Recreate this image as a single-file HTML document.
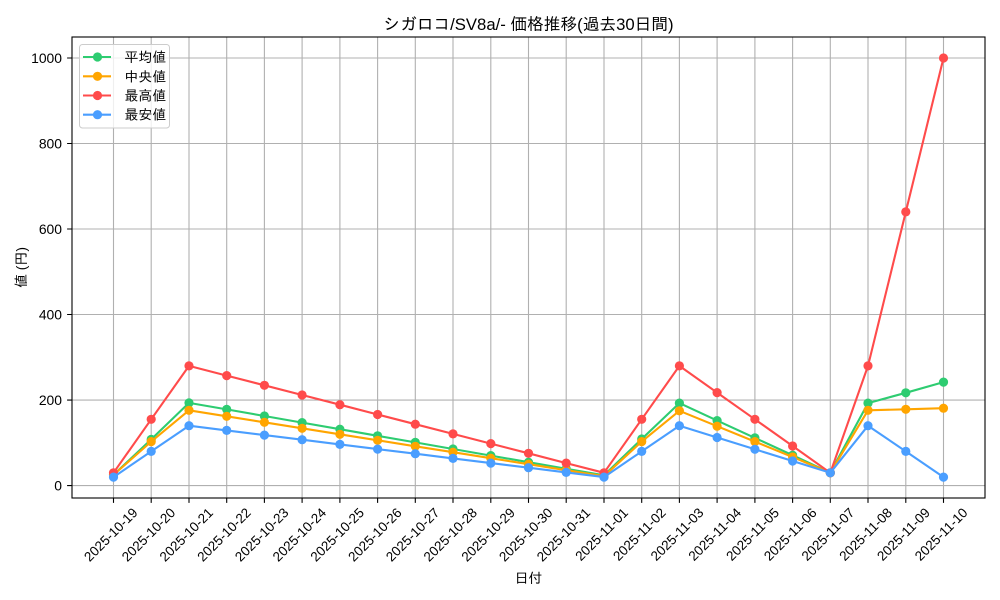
<!DOCTYPE html>
<html>
<head>
<meta charset="utf-8">
<style>
html,body{margin:0;padding:0;background:#fff;}
svg{display:block;}
text{font-family:"Liberation Sans","IPAGothic",sans-serif;fill:#000;}
</style>
</head>
<body>
<svg width="1000" height="600" viewBox="0 0 1000 600" xmlns="http://www.w3.org/2000/svg">
<defs>
<marker id="mg" markerUnits="userSpaceOnUse" markerWidth="10" markerHeight="10" refX="5" refY="5" overflow="visible"><circle cx="5" cy="5" r="4.6" fill="#2ecc71"/></marker>
<marker id="mo" markerUnits="userSpaceOnUse" markerWidth="10" markerHeight="10" refX="5" refY="5" overflow="visible"><circle cx="5" cy="5" r="4.6" fill="#ffa500"/></marker>
<marker id="mr" markerUnits="userSpaceOnUse" markerWidth="10" markerHeight="10" refX="5" refY="5" overflow="visible"><circle cx="5" cy="5" r="4.6" fill="#ff4b4b"/></marker>
<marker id="mb" markerUnits="userSpaceOnUse" markerWidth="10" markerHeight="10" refX="5" refY="5" overflow="visible"><circle cx="5" cy="5" r="4.6" fill="#4a9eff"/></marker>
</defs>
<rect width="1000" height="600" fill="#fff"/>

<!-- grid -->
<g stroke="#b0b0b0" stroke-width="1.1" fill="none">
<path d="M113.5 37V498M151.2 37V498M189 37V498M226.7 37V498M264.4 37V498M302.1 37V498M339.9 37V498M377.6 37V498M415.3 37V498M453 37V498M490.8 37V498M528.5 37V498M566.2 37V498M604 37V498M641.7 37V498M679.4 37V498M717.1 37V498M754.9 37V498M792.6 37V498M830.3 37V498M868 37V498M905.8 37V498M943.5 37V498"/>
<path d="M72 485.6H985M72 400.1H985M72 314.5H985M72 229H985M72 143.5H985M72 58H985"/>
</g>

<!-- series -->
<g fill="none" stroke-width="2.1" stroke-linejoin="round">
<polyline stroke="#2ecc71" marker-start="url(#mg)" marker-mid="url(#mg)" marker-end="url(#mg)" points="113.5,474.9 151.2,439.4 189.0,402.9 226.7,409.4 264.4,416.0 302.1,422.6 339.9,429.2 377.6,435.8 415.3,442.4 453.0,449.0 490.8,455.6 528.5,462.2 566.2,468.8 604.0,475.3 641.7,439.0 679.4,403.1 717.1,420.6 754.9,437.9 792.6,455.2 830.3,472.8 868.0,403.1 905.8,392.8 943.5,382.1"/>
<polyline stroke="#ffa500" marker-start="url(#mo)" marker-mid="url(#mo)" marker-end="url(#mo)" points="113.5,474.9 151.2,441.6 189.0,410.3 226.7,416.3 264.4,422.3 302.1,428.3 339.9,434.3 377.6,440.3 415.3,446.3 453.0,452.2 490.8,458.2 528.5,464.2 566.2,470.2 604.0,476.2 641.7,441.6 679.4,410.8 717.1,426.2 754.9,441.6 792.6,457.0 830.3,472.8 868.0,410.3 905.8,409.3 943.5,408.2"/>
<polyline stroke="#ff4b4b" marker-start="url(#mr)" marker-mid="url(#mr)" marker-end="url(#mr)" points="113.5,472.8 151.2,419.3 189.0,365.9 226.7,375.6 264.4,385.3 302.1,395.0 339.9,404.7 377.6,414.5 415.3,424.2 453.0,433.9 490.8,443.6 528.5,453.3 566.2,463.1 604.0,472.8 641.7,419.3 679.4,365.9 717.1,392.6 754.9,419.3 792.6,446.0 830.3,472.8 868.0,365.9 905.8,211.9 943.5,58.0"/>
<polyline stroke="#4a9eff" marker-start="url(#mb)" marker-mid="url(#mb)" marker-end="url(#mb)" points="113.5,477.1 151.2,451.4 189.0,425.7 226.7,430.4 264.4,435.1 302.1,439.7 339.9,444.4 377.6,449.1 415.3,453.7 453.0,458.4 490.8,463.1 528.5,467.7 566.2,472.4 604.0,477.1 641.7,451.4 679.4,425.7 717.1,437.5 754.9,449.3 792.6,461.0 830.3,472.8 868.0,425.7 905.8,451.4 943.5,477.1"/>
</g>

<!-- spines -->
<rect x="72" y="37" width="913" height="461" fill="none" stroke="#000" stroke-width="1.1"/>

<!-- ticks -->
<g stroke="#000" stroke-width="1.1">
<path d="M113.5 498v4.9M151.2 498v4.9M189 498v4.9M226.7 498v4.9M264.4 498v4.9M302.1 498v4.9M339.9 498v4.9M377.6 498v4.9M415.3 498v4.9M453 498v4.9M490.8 498v4.9M528.5 498v4.9M566.2 498v4.9M604 498v4.9M641.7 498v4.9M679.4 498v4.9M717.1 498v4.9M754.9 498v4.9M792.6 498v4.9M830.3 498v4.9M868 498v4.9M905.8 498v4.9M943.5 498v4.9"/>
<path d="M72 485.6h-4.9M72 400.1h-4.9M72 314.5h-4.9M72 229h-4.9M72 143.5h-4.9M72 58h-4.9"/>
</g>

<!-- y tick labels -->
<g font-size="13.9" text-anchor="end">
<text x="62" y="490.5">0</text>
<text x="62" y="405">200</text>
<text x="62" y="319.4">400</text>
<text x="62" y="233.9">600</text>
<text x="62" y="148.4">800</text>
<text x="62" y="62.9">1000</text>
</g>

<!-- x tick labels -->
<g font-size="13.5" text-anchor="end">
<text x="138.5" y="513.5" transform="rotate(-45 138.5 513.5)">2025-10-19</text>
<text x="176.2" y="513.5" transform="rotate(-45 176.2 513.5)">2025-10-20</text>
<text x="214" y="513.5" transform="rotate(-45 214 513.5)">2025-10-21</text>
<text x="251.7" y="513.5" transform="rotate(-45 251.7 513.5)">2025-10-22</text>
<text x="289.4" y="513.5" transform="rotate(-45 289.4 513.5)">2025-10-23</text>
<text x="327.1" y="513.5" transform="rotate(-45 327.1 513.5)">2025-10-24</text>
<text x="364.9" y="513.5" transform="rotate(-45 364.9 513.5)">2025-10-25</text>
<text x="402.6" y="513.5" transform="rotate(-45 402.6 513.5)">2025-10-26</text>
<text x="440.3" y="513.5" transform="rotate(-45 440.3 513.5)">2025-10-27</text>
<text x="478" y="513.5" transform="rotate(-45 478 513.5)">2025-10-28</text>
<text x="515.8" y="513.5" transform="rotate(-45 515.8 513.5)">2025-10-29</text>
<text x="553.5" y="513.5" transform="rotate(-45 553.5 513.5)">2025-10-30</text>
<text x="591.2" y="513.5" transform="rotate(-45 591.2 513.5)">2025-10-31</text>
<text x="629" y="513.5" transform="rotate(-45 629 513.5)">2025-11-01</text>
<text x="666.7" y="513.5" transform="rotate(-45 666.7 513.5)">2025-11-02</text>
<text x="704.4" y="513.5" transform="rotate(-45 704.4 513.5)">2025-11-03</text>
<text x="742.1" y="513.5" transform="rotate(-45 742.1 513.5)">2025-11-04</text>
<text x="779.9" y="513.5" transform="rotate(-45 779.9 513.5)">2025-11-05</text>
<text x="817.6" y="513.5" transform="rotate(-45 817.6 513.5)">2025-11-06</text>
<text x="855.3" y="513.5" transform="rotate(-45 855.3 513.5)">2025-11-07</text>
<text x="893" y="513.5" transform="rotate(-45 893 513.5)">2025-11-08</text>
<text x="930.8" y="513.5" transform="rotate(-45 930.8 513.5)">2025-11-09</text>
<text x="968.5" y="513.5" transform="rotate(-45 968.5 513.5)">2025-11-10</text>
</g>

<!-- axis labels & title -->
<text x="528.5" y="583" font-size="13.9" text-anchor="middle">日付</text>
<text x="26" y="267.5" font-size="13.9" text-anchor="middle" transform="rotate(-90 26 267.5)">値 (円)</text>
<text x="528.5" y="30" font-size="16.7" text-anchor="middle">シガロコ/SV8a/- 価格推移(過去30日間)</text>

<!-- legend -->
<rect x="79.5" y="44.5" width="90" height="83.5" rx="3" ry="3" fill="#fff" fill-opacity="0.8" stroke="#cccccc" stroke-width="1"/>
<g stroke-width="2.1">
<line x1="83" y1="57" x2="111" y2="57" stroke="#2ecc71"/>
<line x1="83" y1="76.3" x2="111" y2="76.3" stroke="#ffa500"/>
<line x1="83" y1="95.5" x2="111" y2="95.5" stroke="#ff4b4b"/>
<line x1="83" y1="114.7" x2="111" y2="114.7" stroke="#4a9eff"/>
</g>
<circle cx="97.5" cy="57" r="4.6" fill="#2ecc71"/>
<circle cx="97.5" cy="76.3" r="4.6" fill="#ffa500"/>
<circle cx="97.5" cy="95.5" r="4.6" fill="#ff4b4b"/>
<circle cx="97.5" cy="114.7" r="4.6" fill="#4a9eff"/>
<g font-size="13.9">
<text x="124.5" y="62">平均値</text>
<text x="124.5" y="81.3">中央値</text>
<text x="124.5" y="100.5">最高値</text>
<text x="124.5" y="119.7">最安値</text>
</g>
</svg>
</body>
</html>
